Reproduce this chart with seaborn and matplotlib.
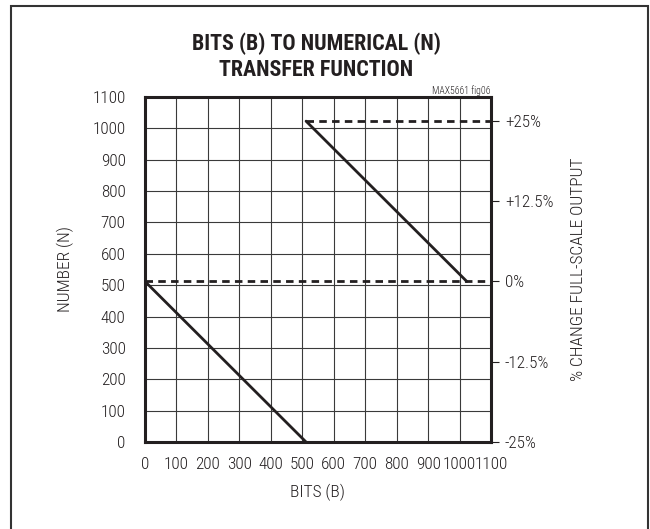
import matplotlib
matplotlib.use("Agg")
import matplotlib.pyplot as plt
import matplotlib.patches as mpatches
import seaborn as sns
import pandas as pd

sns.set_theme(style="white")
plt.rcParams['font.family'] = ['Roboto Condensed', 'Archivo Narrow', 'DejaVu Sans']

# data
seg1_bits = [0, 512]
seg1_num = [512, 0]
seg2_bits = [512, 1023]
seg2_num = [1023, 512]
dash0_bits = [0, 1100]
dash0_num = [512, 512]
dash25_bits = [512, 1100]
dash25_num = [1023, 1023]
ticks = [0, 100, 200, 300, 400, 500, 600, 700, 800, 900, 1000, 1100]
right_ticks = [0, 256, 512, 768, 1024]
right_labels = ["-25%", "-12.5%", "0%", "+12.5%", "+25%"]

INK = "#231f20"
fig = plt.figure(figsize=(6.5, 5.29), dpi=100)
ax = fig.add_axes([145 / 650, 1 - 442 / 529, 346 / 650, 345 / 529])

df1 = pd.DataFrame({"b": seg1_bits, "n": seg1_num})
df2 = pd.DataFrame({"b": seg2_bits, "n": seg2_num})
sns.lineplot(data=df1, x="b", y="n", ax=ax, color=INK, lw=2.0)
sns.lineplot(data=df2, x="b", y="n", ax=ax, color=INK, lw=2.0)
ax.plot(dash0_bits, dash0_num, color=INK, lw=2.0, ls=(0, (2.7, 1.9)), clip_on=False)
ax.plot(dash25_bits, dash25_num, color=INK, lw=2.0, ls=(0, (2.7, 1.9)), clip_on=False)

ax.set_xlim(0, 1100)
ax.set_ylim(0, 1100)
ax.set_xticks(ticks)
ax.set_yticks(ticks)
ax.set_xticklabels([str(t) for t in ticks], fontsize=12.3, fontweight="light")
ax.set_yticklabels([str(t) for t in ticks], fontsize=12.3, fontweight="light")
ax.tick_params(axis="x", length=0, pad=11, colors=INK)
ax.tick_params(axis="y", length=0, pad=14, colors=INK)
ax.grid(True, color="#3a3a3a", lw=0.8)
for s in ax.spines.values():
    s.set_linewidth(2.2)
    s.set_color(INK)
ax.set_xlabel("BITS (B)", fontsize=12.5, labelpad=8, color=INK, fontweight="light")
ax.set_ylabel("NUMBER (N)", fontsize=12.5, labelpad=13, color=INK, fontweight="light")

ax2 = ax.twinx()
ax2.set_ylim(0, 1100)
ax2.set_yticks(right_ticks)
ax2.set_yticklabels(right_labels, fontsize=12.3, fontweight="light")
ax2.tick_params(axis="y", length=6, width=0.8, pad=4, colors=INK, direction="out")
ax2.grid(False)
for s in ax2.spines.values():
    s.set_visible(False)
ax2.set_ylabel("% CHANGE FULL-SCALE OUTPUT", fontsize=12.5, labelpad=13, color=INK, fontweight="light")

fig.text(316 / 650, 1 - 57 / 529, "BITS (B) TO NUMERICAL (N)\nTRANSFER FUNCTION", ha="center", va="center",
         fontsize=15.8, fontweight="bold", color=INK, linespacing=1.25)
fig.text(490 / 650, 1 - 96 / 529, "MAX5661 fig06", ha="right", va="bottom", fontsize=7, color=INK,
         fontweight="light")

fig.patches.append(mpatches.Rectangle((11 / 650, -0.05), 637 / 650, 1.05 - 6 / 529, transform=fig.transFigure,
                                      fill=False, edgecolor="#333333", lw=1.5))

fig.savefig("out.png", dpi=100)
